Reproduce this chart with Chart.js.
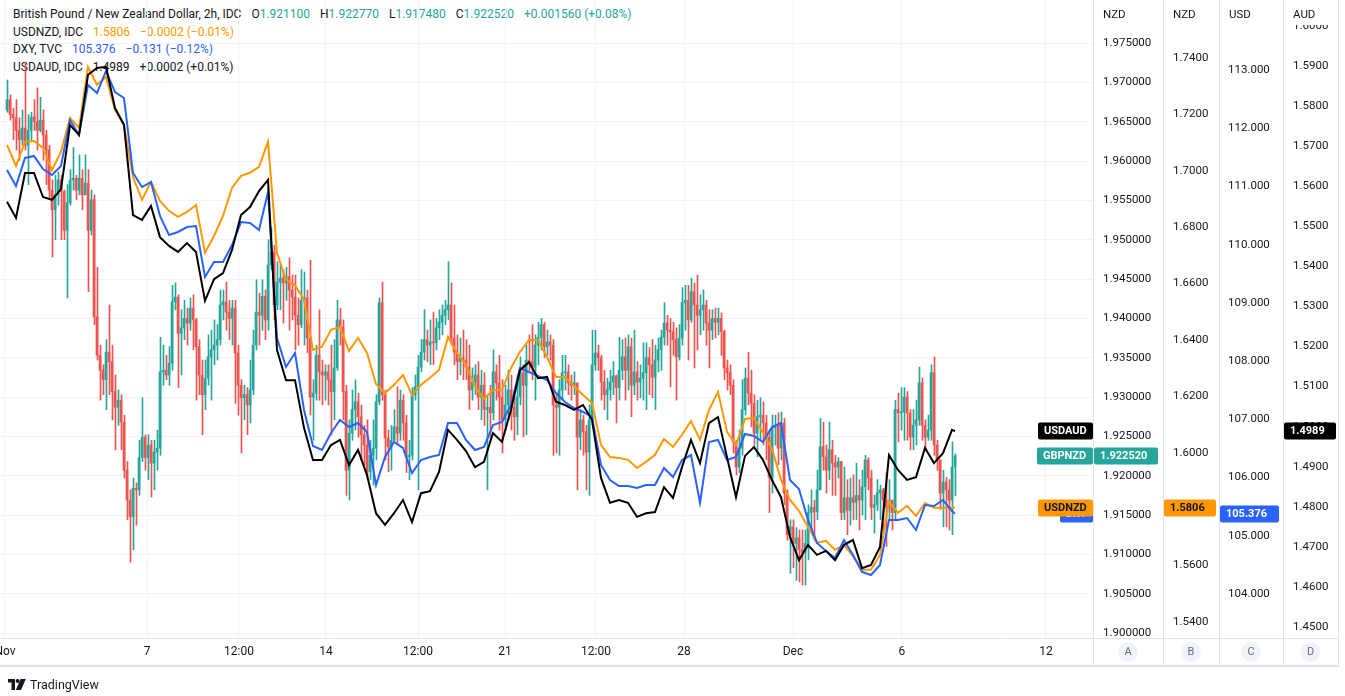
<!DOCTYPE html>
<html>
<head>
<meta charset="utf-8">
<title>GBPNZD 2h</title>
<script src="https://cdn.jsdelivr.net/npm/chart.js@4.4.1/dist/chart.umd.min.js"></script>
<style>
  html, body { margin: 0; padding: 0; background: #ffffff; }
  #wrap { position: relative; width: 1345px; height: 696px; overflow: hidden; font-family: Roboto, "Noto Sans", sans-serif; color: #131722; }
  #legend { position: absolute; left: 13px; top: 6px; font-size: 12px; line-height: 17.5px; white-space: nowrap; z-index: 0; }
  #legend .gap { margin-left: 7px; }
  #c { position: absolute; left: 0; top: 0; z-index: 1; }
  #logo { position: absolute; left: 8px; top: 677px; font-size: 12.5px; display: flex; align-items: center; gap: 4px; z-index: 2; }
</style>
</head>
<body>
<div id="wrap">
  <div id="legend">
    <div>British Pound / New Zealand Dollar, 2h, IDC
      <span class="gap">O<span style="color:#26a69a">1.921100</span></span>
      <span class="gap">H<span style="color:#26a69a">1.922770</span></span>
      <span class="gap">L<span style="color:#26a69a">1.917480</span></span>
      <span class="gap">C<span style="color:#26a69a">1.922520</span></span>
      <span class="gap" style="color:#26a69a">+0.001560 (+0.08%)</span></div>
    <div>USDNZD, IDC <span class="gap" style="color:#ff9800">1.5806</span> <span class="gap" style="color:#ff9800">&minus;0.0002 (&minus;0.01%)</span></div>
    <div>DXY, TVC <span class="gap" style="color:#2962ff">105.376</span> <span class="gap" style="color:#2962ff">&minus;0.131 (&minus;0.12%)</span></div>
    <div>USDAUD, IDC <span class="gap">1.4989</span> <span class="gap">+0.0002 (+0.01%)</span></div>
  </div>
  <canvas id="c" width="1345" height="696"></canvas>
  <div id="logo">
    <svg width="18" height="11" viewBox="0 0 18 11"><path d="M0 0h7v11h-3.5v-7.5h-3.5z" fill="#131722"/><circle cx="9.6" cy="2" r="2" fill="#131722"/><path d="M12.6 0h5.2l-4.8 11h-5.2z" fill="#131722"/></svg>
    <span>TradingView</span>
  </div>
</div>
<script>
// GBPNZD 2h candles, open = previous close
var firstOpen = 1.9665;
var closes = [
  1.9678,1.9659,1.9655,1.9639,1.9627,1.9642,1.9620,1.9639,1.9656,1.9650,
  1.9639,1.9652,1.9633,1.9614,1.9563,1.9538,1.9557,1.9576,1.9561,1.9512,
  1.9547,1.9576,1.9578,1.9563,1.9578,1.9557,1.9572,1.9512,1.9551,1.9402,
  1.9353,1.9334,1.9322,1.9357,1.9345,1.9307,1.9287,1.9296,1.9268,1.9207,
  1.9169,1.9148,1.9184,1.9182,1.9223,1.9249,1.9223,1.9239,1.9216,1.9230,
  1.9235,1.9332,1.9334,1.9328,1.9343,1.9421,1.9427,1.9381,1.9388,1.9400,
  1.9394,1.9413,1.9398,1.9364,1.9328,1.9303,1.9324,1.9351,1.9360,1.9366,
  1.9373,1.9417,1.9421,1.9408,1.9400,1.9413,1.9356,1.9315,
  1.9299,1.9303,1.9290,1.9309,1.9366,1.9408,1.9404,1.9428,1.9398,1.9468,
  1.9484,1.9417,1.9446,1.9451,1.9445,1.9453,1.9436,1.9427,1.9404,1.9392,
  1.9423,1.9426,1.9375,1.9300,1.9305,1.9353,1.9332,1.9328,1.9332,1.9322,
  1.9307,1.9337,1.9398,1.9389,1.9307,1.9207,1.9254,1.9284,1.9294,1.9275,
  1.9252,1.9239,1.9205,1.9226,1.9235,1.9294,1.9420,1.9303,1.9248,1.9237,
  1.9245,1.9262,1.9254,1.9296,1.9267,1.9224,1.9226,1.9303,1.9313,1.9338,
  1.9357,1.9373,1.9366,1.9370,1.9369,1.9388,1.9395,1.9404,1.9411,1.9417,
  1.9375,1.9357,1.9345,1.9350,1.9347,1.9338,1.9309,1.9319,1.9328,1.9300,
  1.9315,1.9284,1.9287,
  1.9280,1.9332,1.9318,1.9300,1.9271,1.9290,1.9309,1.9287,1.9275,1.9300,
  1.9331,1.9315,1.9347,1.9345,1.9338,1.9366,1.9376,1.9392,1.9364,1.9370,
  1.9366,1.9290,1.9287,1.9309,1.9331,1.9332,1.9318,1.9315,1.9318,1.9249,
  1.9271,1.9256,1.9230,1.9271,1.9341,1.9356,1.9350,1.9319,1.9303,1.9309,
  1.9319,1.9327,1.9312,1.9334,1.9351,1.9334,1.9364,1.9315,1.9332,1.9319,
  1.9324,1.9331,1.9350,1.9341,1.9325,1.9347,1.9360,1.9376,1.9394,1.9385,
  1.9383,1.9373,1.9351,1.9375,1.9420,1.9423,1.9398,1.9434,1.9417,1.9404,
  1.9411,1.9417,1.9394,1.9385,1.9400,1.9395,1.9400,1.9383,1.9337,1.9331,
  1.9315,1.9243,1.9211,1.9235,1.9284,1.9324,1.9305,1.9292,1.9254,1.9275,
  1.9277,1.9267,1.9249,1.9198,1.9261,1.9264,1.9235,1.9267,1.9178,1.9125,
  1.9135,1.9114,1.9121,1.9106,1.9102,1.9114,1.9153,1.9160,1.9154,1.9182,
  1.9237,1.9224,1.9207,1.9233,1.9216,1.9211,1.9218,1.9153,1.9172,1.9156,
  1.9172,1.9166,1.9175,1.9169,1.9186,1.9220,1.9197,1.9160,1.9163,1.9178,
  1.9182,1.9169,1.9160,1.9169,1.9153,1.9284,1.9280,1.9281,1.9300,1.9280,
  1.9249,1.9264,1.9271,1.9318,1.9264,1.9249,1.9258,1.9331,1.9239,1.9220,
  1.9178,1.9192,1.9182,1.9169,1.9211,1.92252
];
var highs = [
  1.9703,1.9684,1.9667,1.9678,1.9655,1.9665,1.9726,1.9659,1.9662,1.9678,
  1.9693,1.9681,1.9665,1.9639,1.9620,1.9576,1.9582,1.9586,1.9582,1.9563,
  1.9570,1.9589,1.9617,1.9582,1.9608,1.9589,1.9608,1.9589,1.9563,1.9557,
  1.9465,1.9366,1.9341,1.9373,1.9417,1.9366,1.9328,1.9309,1.9303,1.9277,
  1.9218,1.9182,1.9197,1.9191,1.9245,1.9299,1.9252,1.9252,1.9245,1.9245,
  1.9258,1.9376,1.9366,1.9353,1.9364,1.9442,1.9445,1.9430,1.9411,1.9423,
  1.9413,1.9426,1.9430,1.9400,1.9373,1.9347,1.9347,1.9379,1.9385,1.9398,
  1.9392,1.9436,1.9436,1.9446,1.9423,1.9423,1.9423,1.9366,
  1.9322,1.9315,1.9312,1.9347,1.9385,1.9449,1.9432,1.9449,1.9436,1.9500,
  1.9515,1.9493,1.9472,1.9468,1.9462,1.9465,1.9477,1.9455,1.9455,1.9426,
  1.9462,1.9459,1.9436,1.9474,1.9322,1.9366,1.9411,1.9347,1.9341,1.9341,
  1.9366,1.9373,1.9423,1.9413,1.9398,1.9315,1.9271,1.9309,1.9322,1.9305,
  1.9290,1.9264,1.9271,1.9245,1.9271,1.9303,1.9426,1.9446,1.9309,1.9258,
  1.9264,1.9284,1.9313,1.9309,1.9303,1.9277,1.9245,1.9312,1.9328,1.9353,
  1.9373,1.9411,1.9385,1.9398,1.9408,1.9400,1.9411,1.9417,1.9423,1.9472,
  1.9445,1.9417,1.9379,1.9375,1.9385,1.9373,1.9366,1.9337,1.9341,1.9345,
  1.9334,1.9331,1.9303,
  1.9315,1.9360,1.9341,1.9353,1.9322,1.9315,1.9334,1.9328,1.9303,1.9328,
  1.9351,1.9341,1.9366,1.9379,1.9392,1.9379,1.9395,1.9400,1.9395,1.9385,
  1.9379,1.9373,1.9303,1.9322,1.9353,1.9353,1.9341,1.9328,1.9332,1.9315,
  1.9284,1.9277,1.9264,1.9290,1.9385,1.9385,1.9366,1.9353,1.9334,1.9324,
  1.9334,1.9345,1.9328,1.9376,1.9373,1.9375,1.9379,1.9375,1.9385,1.9345,
  1.9341,1.9369,1.9369,1.9363,1.9373,1.9366,1.9375,1.9385,1.9420,1.9404,
  1.9400,1.9395,1.9388,1.9392,1.9439,1.9442,1.9442,1.9451,1.9445,1.9455,
  1.9430,1.9436,1.9423,1.9411,1.9411,1.9413,1.9413,1.9407,1.9385,1.9347,
  1.9341,1.9322,1.9245,1.9258,1.9322,1.9337,1.9357,1.9334,1.9303,1.9296,
  1.9299,1.9294,1.9277,1.9258,1.9277,1.9277,1.9280,1.9281,1.9273,1.9182,
  1.9144,1.9144,1.9134,1.9131,1.9131,1.9131,1.9163,1.9182,1.9169,1.9207,
  1.9273,1.9268,1.9239,1.9268,1.9245,1.9226,1.9223,1.9218,1.9211,1.9195,
  1.9197,1.9201,1.9216,1.9195,1.9207,1.9226,1.9223,1.9207,1.9175,1.9195,
  1.9188,1.9184,1.9204,1.9195,1.9169,1.9296,1.9305,1.9312,1.9312,1.9307,
  1.9284,1.9284,1.9296,1.9338,1.9324,1.9271,1.9277,1.9341,1.9351,1.9245,
  1.9220,1.9207,1.9198,1.9195,1.9243,1.92277
];
var lows = [
  1.9662,1.9652,1.9627,1.9614,1.9601,1.9620,1.9614,1.9570,1.9627,1.9639,
  1.9614,1.9637,1.9601,1.9570,1.9551,1.9478,1.9500,1.9544,1.9500,1.9500,
  1.9426,1.9544,1.9563,1.9551,1.9557,1.9538,1.9557,1.9434,1.9506,1.9392,
  1.9347,1.9296,1.9303,1.9284,1.9303,1.9271,1.9233,1.9264,1.9233,1.9197,
  1.9144,1.9090,1.9106,1.9137,1.9175,1.9218,1.9207,1.9195,1.9173,1.9182,
  1.9207,1.9226,1.9315,1.9322,1.9315,1.9334,1.9411,1.9312,1.9328,1.9373,
  1.9366,1.9385,1.9360,1.9296,1.9303,1.9252,1.9284,1.9315,1.9296,1.9341,
  1.9347,1.9366,1.9398,1.9385,1.9373,1.9366,1.9292,1.9277,
  1.9229,1.9271,1.9252,1.9267,1.9303,1.9360,1.9366,1.9385,1.9373,1.9385,
  1.9462,1.9398,1.9411,1.9411,1.9394,1.9423,1.9385,1.9398,1.9360,1.9366,
  1.9388,1.9366,1.9356,1.9277,1.9245,1.9296,1.9296,1.9290,1.9296,1.9290,
  1.9252,1.9271,1.9334,1.9366,1.9271,1.9175,1.9169,1.9245,1.9258,1.9249,
  1.9220,1.9214,1.9195,1.9195,1.9188,1.9220,1.9290,1.9296,1.9220,1.9205,
  1.9207,1.9245,1.9239,1.9245,1.9245,1.9204,1.9195,1.9220,1.9296,1.9182,
  1.9332,1.9347,1.9345,1.9341,1.9341,1.9360,1.9373,1.9379,1.9392,1.9398,
  1.9366,1.9341,1.9322,1.9328,1.9322,1.9322,1.9284,1.9296,1.9303,1.9284,
  1.9271,1.9264,1.9182,
  1.9245,1.9271,1.9296,1.9258,1.9229,1.9258,1.9271,1.9258,1.9245,1.9252,
  1.9290,1.9249,1.9252,1.9334,1.9322,1.9296,1.9341,1.9360,1.9350,1.9353,
  1.9347,1.9226,1.9229,1.9226,1.9296,1.9309,1.9303,1.9296,1.9303,1.9182,
  1.9233,1.9226,1.9182,1.9175,1.9264,1.9334,1.9334,1.9296,1.9284,1.9271,
  1.9296,1.9303,1.9267,1.9296,1.9322,1.9296,1.9309,1.9275,1.9303,1.9296,
  1.9299,1.9296,1.9284,1.9303,1.9299,1.9284,1.9332,1.9334,1.9366,1.9366,
  1.9313,1.9353,1.9296,1.9347,1.9366,1.9385,1.9347,1.9395,1.9337,1.9360,
  1.9379,1.9385,1.9366,1.9337,1.9373,1.9375,1.9379,1.9353,1.9322,1.9309,
  1.9303,1.9229,1.9201,1.9204,1.9226,1.9277,1.9290,1.9262,1.9239,1.9224,
  1.9245,1.9239,1.9220,1.9153,1.9178,1.9239,1.9214,1.9220,1.9163,1.9118,
  1.9076,1.9083,1.9067,1.9065,1.9061,1.9061,1.9093,1.9131,1.9118,1.9144,
  1.9182,1.9207,1.9178,1.9195,1.9175,1.9175,1.9197,1.9144,1.9144,1.9125,
  1.9137,1.9144,1.9144,1.9131,1.9150,1.9144,1.9182,1.9144,1.9127,1.9156,
  1.9144,1.9131,1.9110,1.9144,1.9131,1.9144,1.9243,1.9258,1.9245,1.9245,
  1.9233,1.9233,1.9239,1.9264,1.9245,1.9233,1.9245,1.9245,1.9226,1.9207,
  1.9157,1.9135,1.9135,1.9131,1.9125,1.91748
];

// overlay symbols, one reading every third bar
var lineBars = [0,3,6,9,12,15,18,21,24,27,30,33,36,39,42,45,48,51,54,57,60,63,66,69,72,75,78,81,84,87,90,93,96,99,102,105,108,111,114,117,120,123,126,129,132,135,138,141,144,147,150,153,156,159,162,165,168,171,174,177,180,183,186,189,192,195,198,201,204,207,210,213,216,219,222,225,228,231,234,237,240,243,246,249,252,255,258,261,264,267,270,273,276,279,282,285,288,291,294,297,300,303,306,309,312,315,316];
var usdnzd = [
  1.7092,1.7017,1.7103,1.7106,1.7081,1.7003,1.7067,1.7188,1.7152,1.7368,
  1.7305,1.7333,1.7216,1.7163,1.6978,1.6897,1.6961,1.6893,1.6858,1.6837,
  1.6854,1.6879,1.6709,1.6769,1.6840,1.6939,1.6982,1.6993,1.7014,1.7103,
  1.6709,1.6613,1.6595,1.6542,1.6365,1.6376,1.6436,1.6446,1.6361,1.6408,
  1.6354,1.6244,1.6212,1.6241,1.6276,1.6205,1.6241,1.6266,1.6294,1.6411,
  1.6354,1.6312,1.6234,1.6191,1.6223,1.6223,1.6301,1.6358,1.6400,1.6400,
  1.6340,1.6269,1.6269,1.6237,1.6205,1.6177,1.6028,1.5985,1.5982,1.5975,
  1.5946,1.5968,1.5993,1.6049,1.6021,1.6064,1.6113,1.6046,1.6152,1.6216,
  1.6074,1.6028,1.6120,1.6124,1.6071,1.6014,1.5904,1.5833,1.5794,1.5737,
  1.5681,1.5688,1.5656,1.5673,1.5634,1.5585,1.5585,1.5638,1.5826,1.5787,
  1.5812,1.5776,1.5822,1.5805,1.5805,1.5805,1.5806
];
var dxy = [
  111.282,111.008,111.489,111.523,111.300,111.197,111.351,112.141,111.884,112.742,
  112.605,112.983,112.622,112.519,111.231,110.990,111.076,110.492,110.166,110.218,
  110.303,110.320,109.445,109.702,109.702,109.994,110.389,110.372,110.252,110.905,
  108.397,107.899,108.139,107.160,106.542,106.473,106.765,106.988,106.868,106.937,
  106.782,105.872,106.353,106.611,106.508,106.078,106.301,106.353,106.387,106.937,
  106.937,106.645,106.473,106.525,106.903,106.954,107.246,107.882,107.813,107.744,
  107.675,107.452,107.298,107.195,107.126,107.040,106.216,105.958,105.855,105.855,
  105.820,105.872,105.872,106.164,106.009,106.301,106.387,105.563,106.611,106.645,
  106.301,106.353,106.748,106.714,106.611,106.868,106.937,105.958,105.803,105.271,
  104.876,104.738,104.618,104.927,104.670,104.378,104.326,104.498,105.271,105.271,
  105.305,105.099,105.528,105.511,105.614,105.425,105.376
];
var usdaud = [
  1.5561,1.5521,1.5633,1.5633,1.5573,1.5566,1.5593,1.5753,1.5728,1.5878,
  1.5895,1.5898,1.5795,1.5753,1.5528,1.5516,1.5551,1.5473,1.5451,1.5436,
  1.5458,1.5436,1.5314,1.5368,1.5383,1.5441,1.5528,1.5548,1.5588,1.5616,
  1.5191,1.5116,1.5116,1.4997,1.4917,1.4917,1.4954,1.4967,1.4904,1.4942,
  1.4879,1.4784,1.4755,1.4784,1.4817,1.4762,1.4834,1.4839,1.4887,1.4992,
  1.4967,1.4939,1.4899,1.4912,1.4984,1.4962,1.5042,1.5141,1.5161,1.5121,
  1.5124,1.5062,1.5054,1.5042,1.5054,1.5017,1.4872,1.4810,1.4817,1.4810,
  1.4775,1.4784,1.4787,1.4849,1.4822,1.4899,1.4967,1.4909,1.5009,1.5024,
  1.4924,1.4824,1.4927,1.4949,1.4917,1.4867,1.4824,1.4725,1.4667,1.4705,
  1.4680,1.4690,1.4667,1.4705,1.4717,1.4647,1.4655,1.4700,1.4929,1.4892,
  1.4867,1.4874,1.4947,1.4909,1.4934,1.4992,1.4989
];

// time axis (bar index of each label)
var timeTicks = [-0.67, 46.67, 77.33, 106.33, 137, 166, 196.33, 225.67, 262, 298.33, 346.33];
var timeLabels = ["Nov", "7", "12:00", "14", "12:00", "21", "12:00", "28", "Dec", "6", "12"];

// price axes
var ticksA = [1.900, 1.905, 1.910, 1.915, 1.920, 1.925, 1.930, 1.935, 1.940, 1.945, 1.950, 1.955, 1.960, 1.965, 1.970, 1.975];
var ticksB = [1.54, 1.56, 1.58, 1.60, 1.62, 1.64, 1.66, 1.68, 1.70, 1.72, 1.74];
var ticksC = [104, 105, 106, 107, 108, 109, 110, 111, 112, 113];
var ticksD = [1.45, 1.46, 1.47, 1.48, 1.49, 1.50, 1.51, 1.52, 1.53, 1.54, 1.55, 1.56, 1.57, 1.58, 1.59, 1.60];

var UP = "#26a69a", DOWN = "#ef5350";
var FONT = "Roboto, 'Noto Sans', sans-serif";

var opens = closes.map(function (c, i) { return i === 0 ? firstOpen : closes[i - 1]; });
var bodies = [], wicks = [], colors = [];
closes.forEach(function (c, i) {
  var o = opens[i];
  bodies.push({ x: i, y: [o, c] });
  wicks.push({ x: i + 1 / 6, y: [Math.min(lows[i], o, c), Math.max(highs[i], o, c)] });
  colors.push(c >= o ? UP : DOWN);
});

function linePoints(values) {
  return values.map(function (v, k) { return { x: lineBars[k], y: v }; });
}

function yAxis(min, max, ticks, width, pad, decimals, withGrid) {
  return {
    type: "linear",
    position: "right",
    min: min,
    max: max,
    afterBuildTicks: function (s) { s.ticks = ticks.map(function (v) { return { value: v }; }); },
    afterFit: function (s) { s.width = width; s.paddingTop = 0; s.paddingBottom = 0; },
    grid: withGrid ? { color: "#f0f3fa", drawTicks: false } : { display: false, drawTicks: false },
    border: { display: false },
    ticks: {
      padding: pad,
      color: "#131722",
      font: { family: FONT, size: 11.5 },
      callback: function (v) { return Number(v).toFixed(decimals); }
    }
  };
}

// separators, axis headers, pane letters and last-value badges
var overlay = {
  id: "overlay",
  afterDraw: function (chart) {
    var ctx = chart.ctx, area = chart.chartArea;
    var sA = chart.scales.yA, sB = chart.scales.yB, sC = chart.scales.yC, sD = chart.scales.yD;
    var cols = [sA, sB, sC, sD];
    ctx.save();

    // header strip over each price column
    ctx.fillStyle = "#ffffff";
    cols.forEach(function (s) { ctx.fillRect(s.left + 1, 0, s.right - s.left - 1, 25); });
    ctx.fillStyle = "#131722";
    ctx.font = "11.5px " + FONT;
    ctx.textAlign = "left";
    ctx.textBaseline = "middle";
    ["NZD", "NZD", "USD", "AUD"].forEach(function (t, i) { ctx.fillText(t, cols[i].left + 10, 15); });

    // borders
    ctx.strokeStyle = "#e0e3eb";
    ctx.lineWidth = 1;
    ctx.beginPath();
    cols.forEach(function (s) { ctx.moveTo(Math.round(s.left) + 0.5, 0); ctx.lineTo(Math.round(s.left) + 0.5, 666); });
    ctx.moveTo(Math.round(sD.right) + 0.5, 0); ctx.lineTo(Math.round(sD.right) + 0.5, 666);
    ctx.moveTo(0, Math.round(area.bottom) + 0.5); ctx.lineTo(sD.right, Math.round(area.bottom) + 0.5);
    ctx.stroke();
    ctx.lineWidth = 2;
    ctx.beginPath();
    ctx.moveTo(0, 666); ctx.lineTo(sD.right + 1, 666);
    ctx.stroke();

    // pane letters
    ["A", "B", "C", "D"].forEach(function (t, i) {
      var cx = (cols[i].left + cols[i].right) / 2;
      ctx.fillStyle = "#f0f3fa";
      ctx.beginPath(); ctx.arc(cx, 652, 10, 0, Math.PI * 2); ctx.fill();
      ctx.fillStyle = "#6a6d78";
      ctx.font = "11px " + FONT;
      ctx.textAlign = "center";
      ctx.fillText(t, cx, 652.5);
    });

    function badge(x, y, w, text, bg, fg) {
      var top = Math.round(y) - 8.5;
      ctx.fillStyle = bg;
      ctx.beginPath();
      ctx.roundRect(x, top, w, 17, 2);
      ctx.fill();
      ctx.fillStyle = fg;
      ctx.font = "bold 11px " + FONT;
      ctx.textAlign = "left";
      ctx.textBaseline = "middle";
      ctx.fillText(text, x + 6, Math.round(y) + 0.5);
    }
    function nameBadge(y, text, bg, fg) {
      ctx.font = "bold 11px " + FONT;
      var w = Math.ceil(ctx.measureText(text).width) + 12;
      badge(area.right - w, y, w, text, bg, fg);
    }

    var lastC = closes[closes.length - 1];
    var yNzd = sB.getPixelForValue(usdnzd[usdnzd.length - 1]);
    var yDxy = sC.getPixelForValue(dxy[dxy.length - 1]);
    var yAud = sD.getPixelForValue(usdaud[usdaud.length - 1]);
    var yGbp = sA.getPixelForValue(lastC);

    nameBadge(yAud, "USDAUD", "#000000", "#ffffff");
    nameBadge(yGbp, "GBPNZD", UP, "#ffffff");
    nameBadge(yDxy, "DXY", "#2962ff", "#ffffff");
    nameBadge(yNzd, "USDNZD", "#ff9800", "#131722");

    badge(sA.left + 1, yGbp, 64, lastC.toFixed(6), UP, "#ffffff");
    badge(sB.left + 1, yNzd, 52, usdnzd[usdnzd.length - 1].toFixed(4), "#ff9800", "#131722");
    badge(sC.left + 1, yDxy, 59, dxy[dxy.length - 1].toFixed(3), "#2962ff", "#ffffff");
    badge(sD.left + 1, yAud, 52, usdaud[usdaud.length - 1].toFixed(4), "#000000", "#ffffff");

    ctx.restore();
  }
};

new Chart(document.getElementById("c"), {
  type: "bar",
  data: {
    datasets: [
      { type: "line", label: "USDAUD", data: linePoints(usdaud), yAxisID: "yD", borderColor: "#000000", borderWidth: 2, pointRadius: 0, tension: 0, order: 1 },
      { type: "line", label: "DXY", data: linePoints(dxy), yAxisID: "yC", borderColor: "#2962ff", borderWidth: 2, pointRadius: 0, tension: 0, order: 2 },
      { type: "line", label: "USDNZD", data: linePoints(usdnzd), yAxisID: "yB", borderColor: "#ff9800", borderWidth: 2, pointRadius: 0, tension: 0, order: 3 },
      { label: "GBPNZD body", data: bodies, yAxisID: "yA", backgroundColor: colors, barThickness: 2, minBarLength: 1, grouped: false, order: 4 },
      { label: "GBPNZD wick", data: wicks, yAxisID: "yA", backgroundColor: colors, barThickness: 1, grouped: false, order: 5 }
    ]
  },
  options: {
    responsive: false,
    animation: false,
    events: [],
    layout: { padding: { left: 0, right: 7, top: 0, bottom: 31 } },
    plugins: { legend: { display: false }, tooltip: { enabled: false } },
    scales: {
      x: {
        type: "linear",
        min: -7 / 3,
        max: 362,
        offset: false,
        afterBuildTicks: function (s) { s.ticks = timeTicks.map(function (v) { return { value: v }; }); },
        afterFit: function (s) { s.height = 27; s.paddingLeft = 0; s.paddingRight = 0; },
        grid: { color: "#f0f3fa", drawTicks: false, offset: false },
        border: { display: false },
        ticks: {
          autoSkip: false,
          maxRotation: 0,
          padding: 7,
          color: "#131722",
          font: { family: FONT, size: 12 },
          callback: function (v, i) { return timeLabels[i]; }
        }
      },
      yA: yAxis(1.89937, 1.98047, ticksA, 70, 10, 6, true),
      yB: yAxis(1.53433, 1.76057, ticksB, 56, 10, 4, false),
      yC: yAxis(103.244, 114.2023, ticksC, 64, 9, 3, false),
      yD: yAxis(1.44726, 1.60647, ticksD, 55, 10, 4, false)
    }
  },
  plugins: [overlay]
});
</script>
</body>
</html>
